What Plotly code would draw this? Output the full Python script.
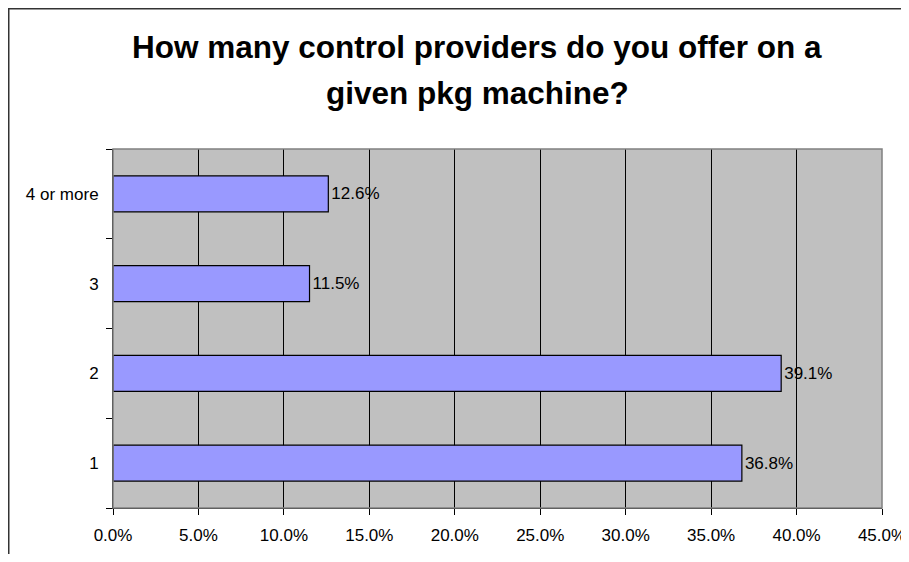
import plotly.graph_objects as go

categories = ["1", "2", "3", "4 or more"]
values = [0.368, 0.391, 0.115, 0.126]
x_ticks = [0.0, 0.05, 0.10, 0.15, 0.20, 0.25, 0.30, 0.35, 0.40, 0.45]
title_lines = ["How many control providers do you offer on a", "given pkg machine?"]

# page body has an 8px margin, so the figure is offset by 8px
OFF = 8
W, H = 909 - OFF, 562 - 2 * OFF
L, R, T = 113 - OFF, 27, 149 - OFF
B = H - (508 - OFF)
pw, ph = W - L - R, H - T - B

def px(x):  # page pixel -> paper x
    return (x - OFF - L) / pw

def py(y):  # page pixel -> paper y
    return (H - B - (y - OFF)) / ph

FONT = "Liberation Sans, Arial, sans-serif"
FS = 17

fig = go.Figure()
fig.add_trace(go.Bar(
    y=categories, x=values, orientation="h",
    marker=dict(color="#9999FF", line=dict(color="#000000", width=1.2)),
    texttemplate="%{x:.1%}", textposition="outside",
    textfont=dict(family=FONT, size=FS, color="#000000"),
    cliponaxis=False,
))

annotations = []
for txt, yc in zip(title_lines, [47, 93]):
    annotations.append(dict(
        text="<b>" + txt + "</b>", xref="paper", yref="paper",
        x=px(477), y=py(yc), xanchor="center", yanchor="middle",
        showarrow=False, font=dict(family=FONT, size=31.5, color="#000000"),
    ))

fig.update_layout(
    width=W, height=H,
    margin=dict(l=L, r=R, t=T, b=B, pad=0),
    paper_bgcolor="#FFFFFF", plot_bgcolor="#C0C0C0",
    bargap=0.6, showlegend=False,
    annotations=annotations,
    font=dict(family=FONT, size=FS, color="#000000"),
    shapes=[
        dict(type="rect", xref="paper", yref="paper", x0=0, x1=1, y0=0, y1=1,
             line=dict(color="#808080", width=1.5), layer="above"),
        dict(type="path", xref="paper", yref="paper",
             path=f"M {px(8.75)} {py(600)} L {px(8.75)} {py(8.75)} L {px(940)} {py(8.75)}",
             line=dict(color="#333333", width=1.5)),
    ],
)
fig.update_xaxes(
    range=[0, 0.45], tickvals=x_ticks, tickformat=".1%",
    showgrid=True, gridcolor="#000000", gridwidth=1,
    showline=True, linecolor="#000000", linewidth=1,
    ticks="outside", ticklen=6, tickcolor="#000000",
    ticklabelstandoff=6, zeroline=False, automargin=False,
    tickfont=dict(family=FONT, size=FS),
)
fig.update_yaxes(
    type="category", categoryorder="array", categoryarray=categories,
    showgrid=False, showline=True, linecolor="#000000", linewidth=1,
    ticks="outside", ticklen=6, tickcolor="#000000", tickson="boundaries",
    ticklabelstandoff=10, automargin=False,
    tickfont=dict(family=FONT, size=FS),
)

fig.write_html("out.html")
